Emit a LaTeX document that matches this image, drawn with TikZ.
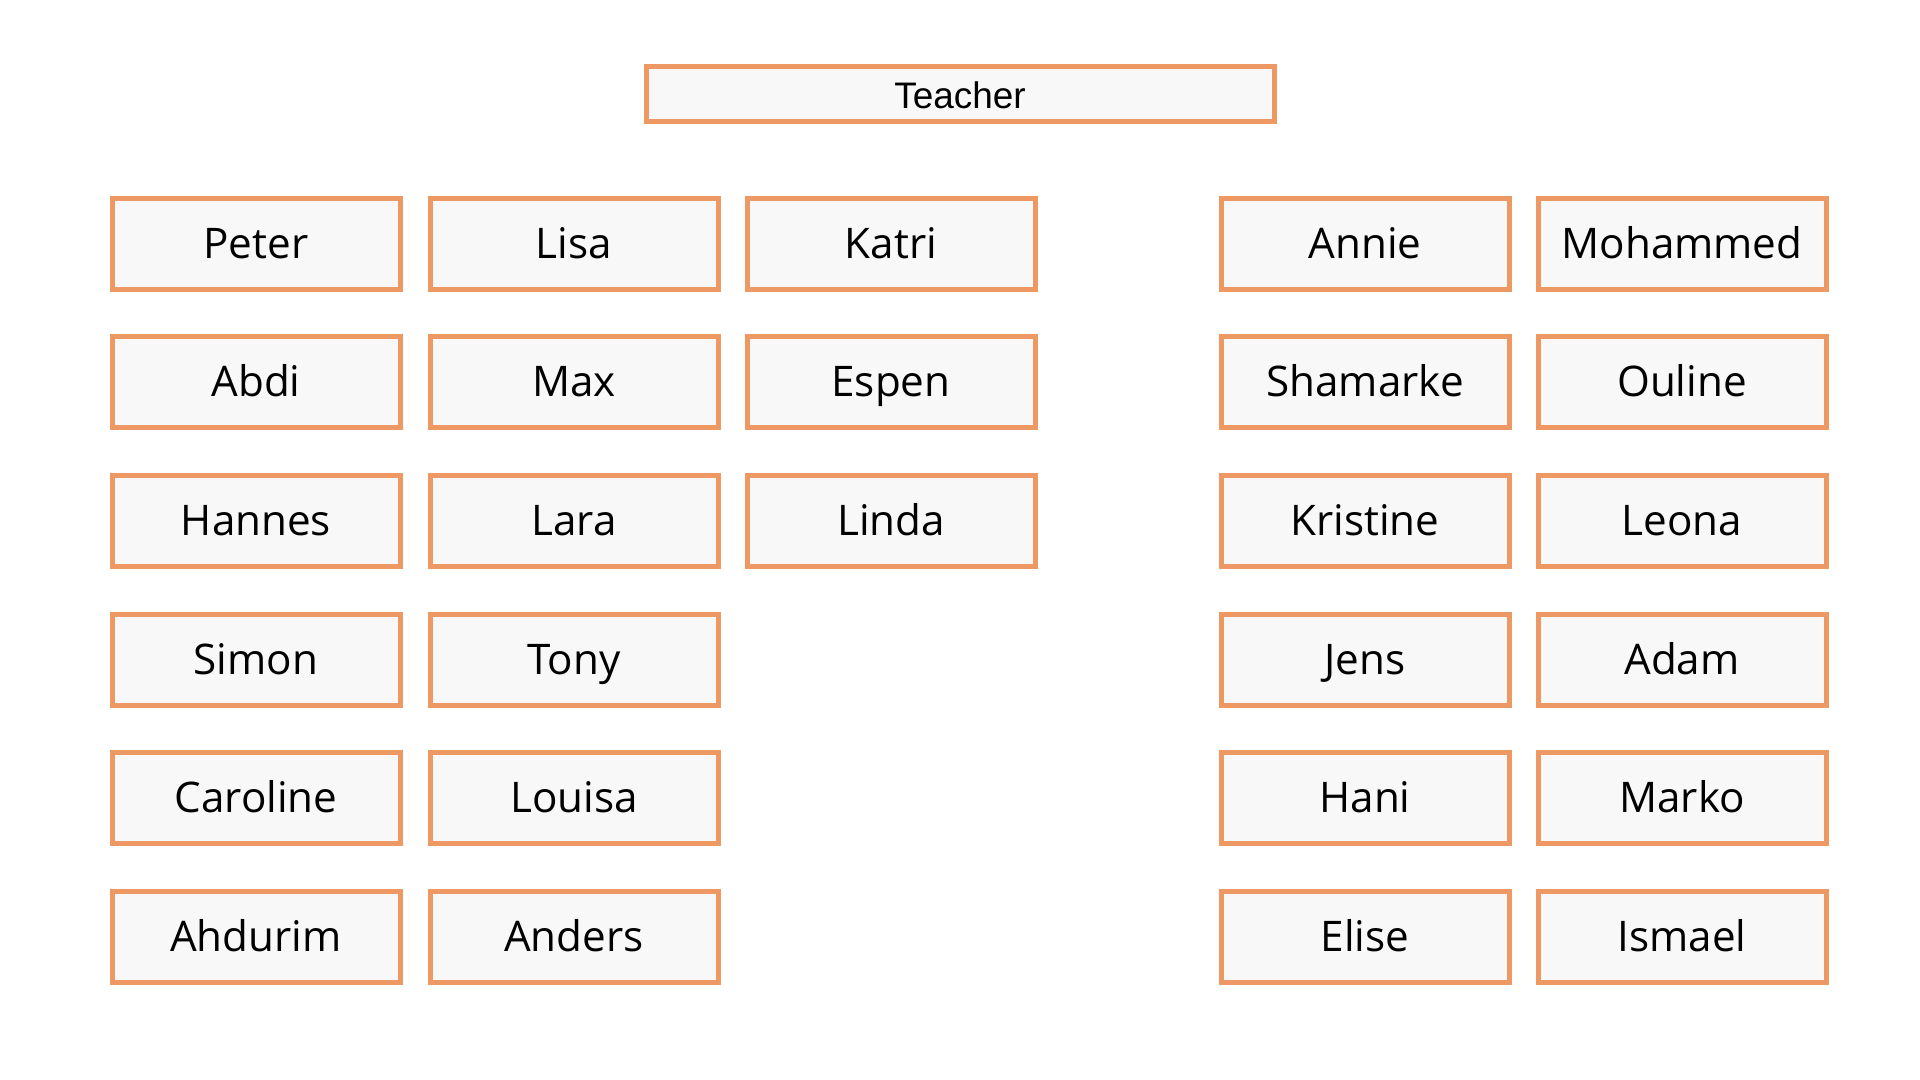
\documentclass[tikz,border=0pt]{standalone}
\usepackage{fontspec}
\setmainfont{Open Sans}
\newfontfamily\teacherfont{Liberation Sans}
\definecolor{boxline}{RGB}{238,152,100}
\definecolor{boxfill}{RGB}{248,248,248}
\tikzset{
  pupil/.style={draw=boxline, fill=boxfill, line width=0.05cm,
    minimum width=2.88cm, minimum height=0.91cm, inner sep=0pt,
    text height=0.8em, text depth=0pt,
    font=\fontsize{12}{14}\selectfont},
  desk/.style={pupil, minimum width=6.28cm, minimum height=0.55cm,
    font=\teacherfont\fontsize{10.5}{12}\selectfont}
}
\begin{document}
\begin{tikzpicture}
      \useasboundingbox[fill=white] (0,0) rectangle (19.2,10.8);
      \node[desk] (teacher) at (9.6, 9.86) {Teacher};

      % left group
      \node[pupil] (peter) at (2.56, 8.36) {Peter};
      \node[pupil] (lisa) at (5.74, 8.36) {Lisa};
      \node[pupil] (katri) at (8.91, 8.36) {Katri};
      \node[pupil] (abdi) at (2.56, 6.98) {Abdi};
      \node[pupil] (max) at (5.74, 6.98) {Max};
      \node[pupil] (espen) at (8.91, 6.98) {Espen};
      \node[pupil] (hannes) at (2.56, 5.59) {Hannes};
      \node[pupil] (lara) at (5.74, 5.59) {Lara};
      \node[pupil] (linda) at (8.91, 5.59) {Linda};
      \node[pupil] (simon) at (2.56, 4.20) {Simon};
      \node[pupil] (tony) at (5.74, 4.20) {Tony};
      \node[pupil] (caroline) at (2.56, 2.82) {Caroline};
      \node[pupil] (louisa) at (5.74, 2.82) {Louisa};
      \node[pupil] (ahdurim) at (2.56, 1.43) {Ahdurim};
      \node[pupil] (anders) at (5.74, 1.43) {Anders};

      % right group
      \node[pupil] (annie) at (13.65, 8.36) {Annie};
      \node[pupil] (mohammed) at (16.82, 8.36) {Mohammed};
      \node[pupil] (shamarke) at (13.65, 6.98) {Shamarke};
      \node[pupil] (ouline) at (16.82, 6.98) {Ouline};
      \node[pupil] (kristine) at (13.65, 5.59) {Kristine};
      \node[pupil] (leona) at (16.82, 5.59) {Leona};
      \node[pupil] (jens) at (13.65, 4.20) {Jens};
      \node[pupil] (adam) at (16.82, 4.20) {Adam};
      \node[pupil] (hani) at (13.65, 2.82) {Hani};
      \node[pupil] (marko) at (16.82, 2.82) {Marko};
      \node[pupil] (elise) at (13.65, 1.43) {Elise};
      \node[pupil] (ismael) at (16.82, 1.43) {Ismael};
    \end{tikzpicture}
\end{document}
